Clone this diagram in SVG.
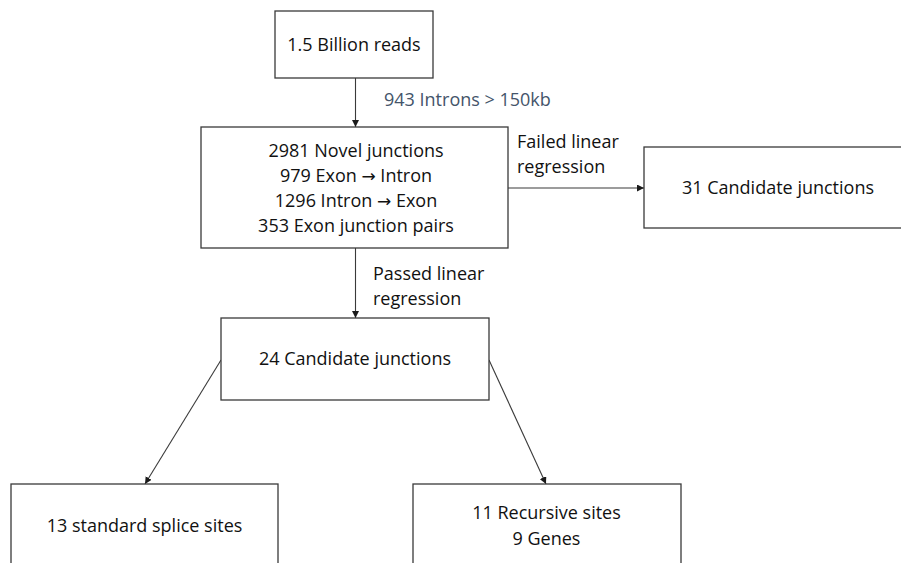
<svg xmlns="http://www.w3.org/2000/svg" width="901" height="563" viewBox="0 0 901 563">
<style>
.box{fill:#ffffff;stroke:#3a3a3a;stroke-width:1.3}
.t{font-family:"Open Sans","Liberation Sans",sans-serif;font-size:18px;fill:#111111;text-anchor:middle}
.l{font-family:"Open Sans","Liberation Sans",sans-serif;font-size:18px;fill:#111111}
.ar{font-family:"DejaVu Sans",sans-serif;font-size:17px}
.c{stroke:#3a3a3a;stroke-width:1.1;fill:none;marker-end:url(#ah)}
</style>
<defs>
<marker id="ah" viewBox="0 0 10 10" refX="10" refY="5" markerWidth="7" markerHeight="7" markerUnits="userSpaceOnUse" orient="auto">
<path d="M0,0 L10,5 L0,10 z" fill="#1a1a1a"/>
</marker>
</defs>
<rect width="901" height="563" fill="#ffffff"/>
<g id="connectors">
<line class="c" x1="355.5" y1="78" x2="355.5" y2="127"/>
<line class="c" x1="355.5" y1="248" x2="355.5" y2="318"/>
<line class="c" x1="508" y1="188" x2="644" y2="188"/>
<line class="c" x1="221" y1="360" x2="145" y2="484"/>
<line class="c" x1="489" y1="360" x2="546" y2="484"/>
<text class="l" x="384" y="106" style="fill:#44546a">943 Introns &gt; 150kb</text>
<text class="l" x="517" y="148">Failed linear</text>
<text class="l" x="517" y="173">regression</text>
<text class="l" x="373" y="280">Passed linear</text>
<text class="l" x="373" y="305">regression</text>
</g>
<g id="reads">
<rect class="box" x="275" y="11" width="158" height="67"/>
<text class="t" x="354" y="51">1.5 Billion reads</text>
</g>
<g id="novel">
<rect class="box" x="201" y="127" width="307" height="121"/>
<text class="t" x="356" y="157">2981 Novel junctions</text>
<text class="t" x="356" y="182">979 Exon <tspan class="ar">→</tspan> Intron</text>
<text class="t" x="356" y="207">1296 Intron <tspan class="ar">→</tspan> Exon</text>
<text class="t" x="356" y="232">353 Exon junction pairs</text>
</g>
<g id="failed">
<rect class="box" x="644" y="147" width="270" height="81"/>
<text class="t" x="778" y="194">31 Candidate junctions</text>
</g>
<g id="candidates">
<rect class="box" x="221" y="318" width="268" height="82"/>
<text class="t" x="355" y="365">24 Candidate junctions</text>
</g>
<g id="standard">
<rect class="box" x="11" y="484" width="267" height="90"/>
<text class="t" x="144.5" y="532">13 standard splice sites</text>
</g>
<g id="recursive">
<rect class="box" x="413" y="484" width="268" height="90"/>
<text class="t" x="546.5" y="519">11 Recursive sites</text>
<text class="t" x="546.5" y="545">9 Genes</text>
</g>
</svg>
